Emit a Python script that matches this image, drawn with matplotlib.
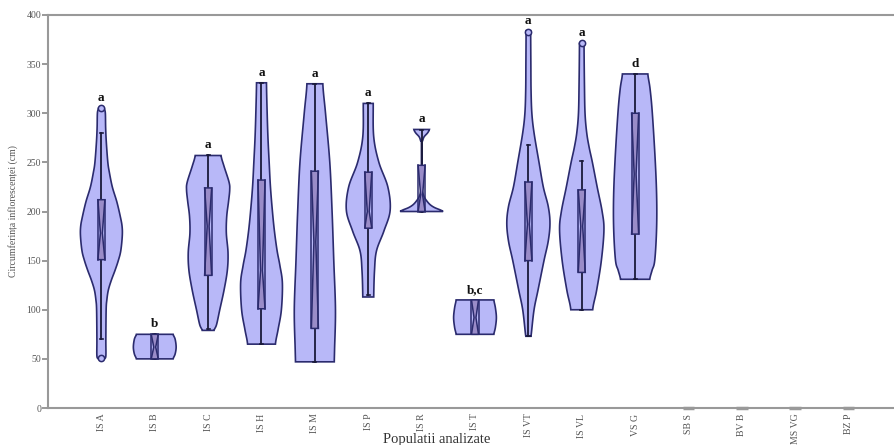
import numpy as np
import matplotlib
matplotlib.use("Agg")
import matplotlib.pyplot as plt

plt.rcParams['font.family'] = ['Liberation Serif', 'DejaVu Serif']

categories = ["IS A", "IS B", "IS C", "IS H", "IS M", "IS P", "IS R", "IS T",
              "IS VT", "IS VL", "VS G", "SB S", "BV B", "MS VG", "BZ P"]

# violin outlines: (value cm, half-width in px at the original scale; 22 ~ widest)
profiles = {
    "IS A": [(50, 3), (53, 4.5), (70, 4.5), (100, 4.8), (110, 5.5), (120, 7), (130, 10),
             (140, 13.7), (150, 17), (160, 19.5), (175, 21), (185, 20.8), (195, 19),
             (210, 15.5), (225, 11), (240, 8), (250, 6.5), (270, 5), (285, 4.3),
             (300, 4), (305, 3)],
    "IS B": [(50, 18.5), (55, 20.5), (62, 21.5), (70, 20.5), (75, 18.5)],
    "IS C": [(79, 6), (85, 8.5), (100, 11.7), (120, 16), (140, 19.3), (158, 20),
             (178, 18.3), (195, 18.7), (210, 20.5), (222, 21.7), (230, 21), (246, 16),
             (257, 13)],
    "IS H": [(65, 14), (80, 16.7), (100, 20), (127, 21), (145, 18.5), (160, 15.7),
             (180, 13), (200, 11), (225, 9), (250, 7.7), (275, 6.5), (300, 5.7),
             (331, 5)],
    "IS M": [(47, 19.5), (60, 19.8), (100, 20.7), (150, 19), (200, 17.3), (250, 15),
             (300, 10.7), (330, 8)],
    "IS P": [(113, 5.5), (140, 6.3), (160, 8.3), (180, 15.7), (201, 22), (225, 19.7),
             (250, 10.7), (276, 5.5), (310, 5)],
    "IS R": [(200, 21.5), (201.5, 19), (204, 13), (207, 8.5), (211, 5), (215, 2.5),
             (220, 1), (226, 0.3), (232, 0), (268, 0), (272, 1), (276, 2.5),
             (280, 6), (283.5, 7.8)],
    "IS T": [(75, 19), (82, 20.5), (92, 21.5), (102, 20.5), (110, 19)],
    "IS VT": [(73, 2.5), (76, 3), (100, 5.7), (120, 9.7), (150, 15.7), (170, 20),
              (188, 21.7), (205, 20), (225, 15), (250, 10.7), (280, 5.7), (300, 3.5),
              (323, 2.7), (350, 2.5), (384, 2.3)],
    "IS VL": [(100, 11), (120, 15), (150, 19.7), (181, 22.3), (200, 20.5), (225, 15.5),
              (250, 10.7), (265, 7.5), (280, 5), (300, 3.3), (330, 2.7), (371, 2.3)],
    "VS G": [(131, 14.7), (140, 17), (150, 19.7), (180, 21.5), (212, 21.7), (250, 20.3),
             (300, 17.3), (325, 15), (340, 12.8)],
}

# box stats: q1, median, q3, whisker low, whisker high
q1 = [151, 50, 135, 101, 81, 183, 200, 75, 150, 138, 177]
med = [178, 62, 185, 140, 169, 200, 217, 92, 187, 185, 238]
q3 = [212, 75, 224, 232, 241, 240, 247, 110, 230, 222, 300]
w_lo = [70, 50, 80, 65, 47, 115, 200, 75, 73, 100, 131]
w_hi = [280, 75, 257, 331, 330, 310, 283, 110, 268, 251, 340]
outliers = {"IS A": [51, 305], "IS VT": [383], "IS VL": [371]}
letters = ["a", "b", "a", "a", "a", "a", "a", "b,c", "a", "a", "d"]

FILL = "#b8b8f8"
EDGE = "#2b2b6e"
BOXC = "#9a8cc8"
MAXW = 0.41


def smooth(v, w, n=12):
    v = np.asarray(v, float)
    w = np.asarray(w, float)
    if len(v) < 3:
        return v, w
    pv = np.concatenate([[2 * v[0] - v[1]], v, [2 * v[-1] - v[-2]]])
    pw = np.concatenate([[w[0]], w, [w[-1]]])
    ov, ow = [], []
    for i in range(1, len(pv) - 2):
        t = np.linspace(0, 1, n, endpoint=False)
        for arr, out in ((pv, ov), (pw, ow)):
            p0, p1, p2, p3 = arr[i - 1], arr[i], arr[i + 1], arr[i + 2]
            out.extend(0.5 * ((2 * p1) + (-p0 + p2) * t +
                              (2 * p0 - 5 * p1 + 4 * p2 - p3) * t ** 2 +
                              (-p0 + 3 * p1 - 3 * p2 + p3) * t ** 3))
    ov.append(v[-1])
    ow.append(w[-1])
    return np.array(ov), np.clip(np.array(ow), 0, None)


fig = plt.figure(figsize=(8.95, 4.45), dpi=100)
ax = fig.add_axes([48 / 895, 37 / 445, 854 / 895, 393 / 445])

for i, name in enumerate(categories):
    x = i + 1
    if name not in profiles:
        ax.plot([x - 0.11, x + 0.11], [0, 0], color="#999999", lw=2.5,
                solid_capstyle="butt", zorder=3, clip_on=False)
        continue
    vals, ws = zip(*profiles[name])
    sv, sw = smooth(vals, np.array(ws) / 22.0)
    hw = sw * MAXW
    xs = np.concatenate([x - hw, (x + hw)[::-1]])
    ys = np.concatenate([sv, sv[::-1]])
    ax.fill(xs, ys, facecolor=FILL, edgecolor=EDGE, lw=1.2, zorder=2)

    # whisker
    ax.plot([x, x], [w_lo[i], w_hi[i]], color="#1a1a3a", lw=1.3, zorder=3)
    for wv in (w_lo[i], w_hi[i]):
        ax.plot([x - 0.03, x + 0.03], [wv, wv], color="#1a1a3a", lw=1.2, zorder=3)

    # notched box
    bw, nw = 0.066, 0.018
    bx = [x - bw, x + bw, x + nw, x + bw, x - bw, x - nw, x - bw]
    by = [q1[i], q1[i], med[i], q3[i], q3[i], med[i], q1[i]]
    ax.fill(bx, by, facecolor=BOXC, edgecolor=EDGE, lw=1.1, zorder=4)
    ax.plot([x - bw, x - bw], [q1[i], q3[i]], color=EDGE, lw=1.1, zorder=4)
    ax.plot([x + bw, x + bw], [q1[i], q3[i]], color=EDGE, lw=1.1, zorder=4)

    for o in outliers.get(name, []):
        ax.plot(x, o, marker="o", ms=4.5, mfc=FILL, mec=EDGE, mew=1.1, zorder=5)

    top = max(max(vals), max(outliers.get(name, [0])))
    ax.annotate(letters[i], (x, top), xytext=(0, 3), textcoords="offset points",
                ha="center", va="bottom", fontsize=9.5, fontweight="bold",
                color="#111111")

ax.set_xlim(0, 16)
ax.set_ylim(0, 400)
ax.set_yticks(range(0, 401, 50))
ax.set_xticks(range(1, len(categories) + 1))
ax.set_xticklabels(categories, rotation=90, fontsize=7, color="#555555")
ax.tick_params(axis="x", length=0, pad=4)
ax.tick_params(axis="y", length=4, width=1.2, color="#888888", labelsize=7,
               labelcolor="#555555", pad=1)
for side in ("left", "bottom", "top"):
    ax.spines[side].set_color("#999999")
    ax.spines[side].set_linewidth(1.5)
ax.spines["right"].set_visible(False)

ax.set_ylabel("Circumferința inflorescenței (cm)", fontsize=7, color="#555555",
              labelpad=6)
ax.set_xlabel("Populatii analizate", fontsize=10.5, color="#333333")
ax.xaxis.set_label_coords(389 / 854, -0.063)

fig.savefig("out.png", dpi=100)
